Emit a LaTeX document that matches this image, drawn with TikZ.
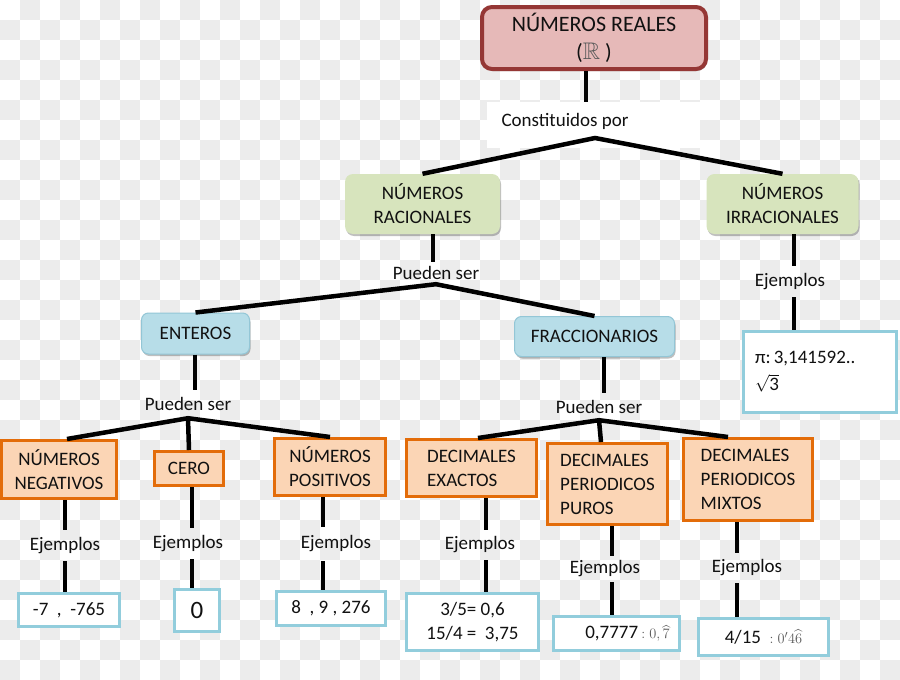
\documentclass[tikz,border=0pt]{standalone}
\usepackage{amssymb}
\usepackage{fontspec}
\setmainfont{Carlito}
\usetikzlibrary{shadows}
\definecolor{checkg}{HTML}{ECECEC}
\definecolor{txt}{HTML}{111111}
\definecolor{redb}{HTML}{953735}
\definecolor{redf}{HTML}{E6B9B8}
\definecolor{greenf}{HTML}{D7E4BD}
\definecolor{bluef}{HTML}{B7DDE8}
\definecolor{blueb}{HTML}{93C6D6}
\definecolor{orangef}{HTML}{FBD5B5}
\definecolor{orangeb}{HTML}{E36C09}
\definecolor{exb}{HTML}{92CDDC}
\definecolor{mathg}{HTML}{5A5A5A}
\tikzset{
  conn/.style={line width=4.5pt, draw=black},
  base/.style={inner sep=0pt, text=txt, font=\fontsize{19}{24}\selectfont, align=center},
  softshadow/.style={drop shadow={shadow xshift=1pt, shadow yshift=-2pt, opacity=0.25, fill=black}},
  redbox/.style={base, draw=redb, line width=4pt, fill=redf, rounded corners=10pt, softshadow, font=\fontsize{22}{28}\selectfont},
  greenbox/.style={base, fill=greenf, rounded corners=8pt, softshadow},
  bluebox/.style={base, fill=bluef, draw=blueb, line width=1pt, rounded corners=7pt, softshadow},
  orangebox/.style={base, fill=orangef, draw=orangeb, line width=3pt},
  exbox/.style={base, fill=white, draw=exb, line width=3pt},
  lbl/.style={base},
}
\begin{document}
\begin{tikzpicture}[x=1pt,y=-1pt]
\useasboundingbox (0,0) rectangle (900,680);
\fill[white] (0,0) rectangle (900,680);
\foreach \j in {0,...,33}{
  \pgfmathtruncatemacro{\s}{mod(\j+1,2)}
  \pgfmathtruncatemacro{\t}{\s+2}
  \foreach \i in {\s,\t,...,44}{
    \fill[checkg] (20*\i,20*\j) rectangle ++(20,20);
  }
}
% x positions of vertical connectors
\coordinate (xreal) at (586,0);
\coordinate (xrac) at (433,0);
\coordinate (xent) at (195,0);
\coordinate (xfra) at (604,0);
\coordinate (xirr) at (794,0);
\coordinate (xneg) at (65,0);
\coordinate (xcero) at (192,0);
\coordinate (xpos) at (323,0);
\coordinate (xexa) at (486,0);
\coordinate (xpur) at (612,0);
\coordinate (xmix) at (737,0);
\coordinate (ap0) at (595,138);

% level 0
\node[redbox, minimum width=224pt, minimum height=62pt] (real) at (594,38)
  {NÚMEROS REALES\\(\textcolor{mathg}{\fontsize{24}{28}\selectfont$\mathbb{R}$} )};
\node[fill=white, inner sep=0pt, minimum width=213pt, minimum height=46pt] (consbox) at (593.5,125) {};
\node[lbl] (cons) at (565,121) {Constituidos por};

% level 1
\node[greenbox, minimum width=155pt, minimum height=60pt] (rac) at (422.5,204) {NÚMEROS\\RACIONALES};
\node[greenbox, minimum width=152pt, minimum height=60pt] (irr) at (782.5,204) {NÚMEROS\\IRRACIONALES};
\node[lbl, minimum height=22pt] (labrac) at (436,273) {Pueden ser};
\node[lbl, minimum height=31pt] (ejirr) at (790,281.5) {Ejemplos};
\node[exbox, minimum width=153pt, minimum height=81pt, text width=130pt, align=left] (exirr) at (820,372)
  {π:\,3,141592..\\[3pt]$\sqrt{\mbox{3}}$};

% level 2
\node[bluebox, minimum width=108pt, minimum height=41pt] (ent) at (195.5,333.5) {ENTEROS};
\node[bluebox, minimum width=160pt, minimum height=40pt] (fra) at (594.5,336.5) {FRACCIONARIOS};
\node[lbl, minimum height=28pt] (labent) at (188,404) {Pueden ser};
\node[lbl, minimum height=27pt] (labfra) at (599,406.5) {Pueden ser};

% level 3
\node[orangebox, minimum width=115pt, minimum height=58pt] (neg) at (59,469.5) {NÚMEROS\\NEGATIVOS};
\node[orangebox, minimum width=69pt, minimum height=34pt] (cero) at (189,468.5) {CERO};
\node[orangebox, minimum width=111pt, minimum height=57pt] (pos) at (330,467) {NÚMEROS\\POSITIVOS};
\node[orangebox, minimum width=130pt, minimum height=57pt, align=left] (exa) at (471.5,468) {DECIMALES\\EXACTOS};
\node[orangebox, minimum width=120pt, minimum height=81pt, align=left] (pur) at (607.5,484) {DECIMALES\\PERIODICOS\\PUROS};
\node[orangebox, minimum width=129pt, minimum height=82pt, align=left] (mix) at (748,479.5) {DECIMALES\\PERIODICOS\\MIXTOS};

% Ejemplos labels
\node[lbl, minimum height=31pt] (ejneg) at (65,545.5) {Ejemplos};
\node[lbl, minimum height=31pt] (ejcero) at (188,543.5) {Ejemplos};
\node[lbl, minimum height=34pt] (ejpos) at (336,544) {Ejemplos};
\node[lbl, minimum height=30pt] (ejexa) at (480,545) {Ejemplos};
\node[lbl, minimum height=26pt] (ejpur) at (605,569) {Ejemplos};
\node[lbl, minimum height=30pt] (ejmix) at (747,568) {Ejemplos};

% example boxes
\node[exbox, minimum width=101pt, minimum height=33pt] (exneg) at (69,610) {-7~~,~~-765};
\node[exbox, minimum width=45pt, minimum height=42pt, font=\fontsize{25}{28}\selectfont] (excero) at (197,610.5) {0};
\node[exbox, minimum width=109pt, minimum height=34pt] (expos) at (331,608.5) {8~~, 9 , 276};
\node[exbox, minimum width=132pt, minimum height=57pt] (exexa) at (472.5,622) {3/5= 0,6\\15/4 =~~3,75};
\node[exbox, minimum width=126pt, minimum height=34pt] (expur) at (616.5,633.5)
  {\hspace*{22pt}0,7777\,\textcolor{mathg}{\fontsize{15}{18}\selectfont$: 0,\widehat{7}$}};
\node[exbox, minimum width=130pt, minimum height=37pt] (exmix) at (763.5,637)
  {4/15~~\textcolor{mathg}{\fontsize{15}{18}\selectfont$: 0'4\widehat{6}$}};

% connectors
\draw[conn] (real.south -| xreal) -- (consbox.north -| xreal);
\draw[conn] (rac.north) -- (ap0) -- (irr.north);
\draw[conn] (rac.south -| xrac) -- (labrac.north -| xrac);
\draw[conn] (ent.north) -- (labrac.south) -- (fra.north);
\draw[conn] (irr.south -| xirr) -- (ejirr.north -| xirr);
\draw[conn] (ejirr.south -| xirr) -- (exirr.north -| xirr);
\draw[conn] (ent.south -| xent) -- (labent.north -| xent);
\draw[conn] ([xshift=8pt]neg.north) -- (labent.south) -- (pos.north);
\draw[conn] (labent.south) -- (cero.north);
\draw[conn] (fra.south -| xfra) -- (labfra.north -| xfra);
\draw[conn] ([xshift=6.5pt]exa.north) -- (labfra.south) -- ([xshift=-20pt]mix.north);
\draw[conn] (labfra.south) -- ([xshift=-6.5pt]pur.north);
\draw[conn] (neg.south -| xneg) -- (ejneg.north -| xneg);
\draw[conn] (ejneg.south -| xneg) -- (exneg.north -| xneg);
\draw[conn] (cero.south -| xcero) -- (ejcero.north -| xcero);
\draw[conn] (ejcero.south -| xcero) -- (excero.north -| xcero);
\draw[conn] (pos.south -| xpos) -- (ejpos.north -| xpos);
\draw[conn] (ejpos.south -| xpos) -- (expos.north -| xpos);
\draw[conn] (exa.south -| xexa) -- (ejexa.north -| xexa);
\draw[conn] (ejexa.south -| xexa) -- (exexa.north -| xexa);
\draw[conn] (pur.south -| xpur) -- (ejpur.north -| xpur);
\draw[conn] (ejpur.south -| xpur) -- (expur.north -| xpur);
\draw[conn] (mix.south -| xmix) -- (ejmix.north -| xmix);
\draw[conn] (ejmix.south -| xmix) -- (exmix.north -| xmix);
\end{tikzpicture}
\end{document}
